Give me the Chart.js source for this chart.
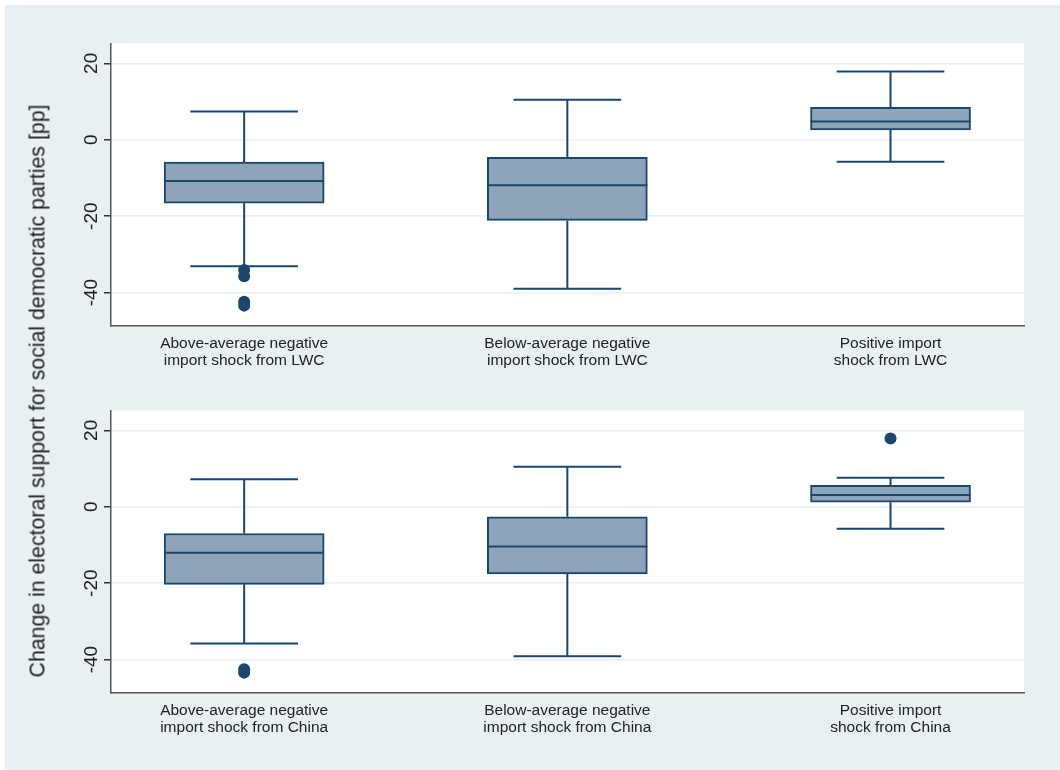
<!DOCTYPE html>
<html>
<head>
<meta charset="utf-8">
<script src="https://cdn.jsdelivr.net/npm/chart.js@4"></script>
<style>
  body { margin: 0; background: #fff; }
  #page { position: relative; width: 1060px; height: 770px; background: #fff; overflow: hidden; }
  #panel { position: absolute; left: 5px; top: 5px; width: 1055px; height: 765px; background: #e9f0f3; }
  .plot { position: absolute; left: 0; width: 1060px; height: 385px; }
  #top { top: 0; }
  #bottom { top: 385px; }
  #ytitle {
    position: absolute; left: 38px; top: 391px; white-space: nowrap;
    font: 21.3px "Liberation Sans", Arial, sans-serif; color: #222;
    transform: translate(-50%, -50%) rotate(-90deg);
  }
</style>
</head>
<body>
<div id="page">
  <div id="panel"></div>
  <div class="plot" id="top"><canvas id="c1" width="1060" height="385"></canvas></div>
  <div class="plot" id="bottom"><canvas id="c2" width="1060" height="385"></canvas></div>
  <div id="ytitle">Change in electoral support for social democratic parties [pp]</div>
</div>
<script>
// categories (x positions 1..3)
const positions = [1, 2, 3];
const labelsLWC = [
  ['Above-average negative', 'import shock from LWC'],
  ['Below-average negative', 'import shock from LWC'],
  ['Positive import', 'shock from LWC']
];
const labelsChina = [
  ['Above-average negative', 'import shock from China'],
  ['Below-average negative', 'import shock from China'],
  ['Positive import', 'shock from China']
];
const yTicks = [-40, -20, 0, 20];

// LWC panel
const lowLWC = [-33.1, -39.0, -5.75];
const q1LWC = [-16.6, -21.1, 2.6];
const medLWC = [-10.8, -11.9, 4.8];
const q3LWC = [-5.8, -4.6, 8.5];
const highLWC = [7.4, 10.5, 17.9];
const outLWC = [[-34.1, -35.7, -42.4, -43.4], [], []];

// China panel
const lowChina = [-35.8, -39.1, -5.75];
const q1China = [-20.3, -17.6, 1.2];
const medChina = [-12.0, -10.4, 3.1];
const q3China = [-7.0, -2.6, 5.6];
const highChina = [7.2, 10.5, 7.6];
const outChina = [[-42.5, -43.4], [], [17.9]];

const navy = '#1a476f';
const boxFill = '#8ea4b9';
const font = '"Liberation Sans", Arial, sans-serif';

// white plot region, whiskers, medians and rotated y labels
const boxPlugin = {
  id: 'boxWhiskers',
  beforeDraw(chart) {
    const a = chart.chartArea, ctx = chart.ctx;
    ctx.save();
    ctx.fillStyle = '#fff';
    ctx.fillRect(a.left, a.top, a.right - a.left, a.bottom - a.top);
    ctx.restore();
  },
  beforeDatasetsDraw(chart, args, opts) {
    const x = chart.scales.x, y = chart.scales.y, ctx = chart.ctx;
    ctx.save();
    ctx.strokeStyle = navy;
    ctx.lineWidth = 2;
    positions.forEach((p, i) => {
      const cx = x.getPixelForValue(p);
      const l = x.getPixelForValue(p - opts.cap), r = x.getPixelForValue(p + opts.cap);
      ctx.beginPath();
      ctx.moveTo(cx, y.getPixelForValue(opts.low[i]));
      ctx.lineTo(cx, y.getPixelForValue(opts.q1[i]));
      ctx.moveTo(cx, y.getPixelForValue(opts.q3[i]));
      ctx.lineTo(cx, y.getPixelForValue(opts.high[i]));
      ctx.moveTo(l, y.getPixelForValue(opts.low[i]));
      ctx.lineTo(r, y.getPixelForValue(opts.low[i]));
      ctx.moveTo(l, y.getPixelForValue(opts.high[i]));
      ctx.lineTo(r, y.getPixelForValue(opts.high[i]));
      ctx.stroke();
    });
    ctx.restore();
  },
  afterDatasetsDraw(chart, args, opts) {
    const y = chart.scales.y, ctx = chart.ctx;
    const bars = chart.getDatasetMeta(0).data;
    ctx.save();
    ctx.strokeStyle = navy;
    ctx.lineWidth = 2;
    bars.forEach((bar, i) => {
      const half = bar.width / 2;
      const my = y.getPixelForValue(opts.med[i]);
      ctx.beginPath();
      ctx.moveTo(bar.x - half, my);
      ctx.lineTo(bar.x + half, my);
      ctx.stroke();
    });
    ctx.restore();
  },
  afterDraw(chart) {
    const y = chart.scales.y, ctx = chart.ctx;
    ctx.save();
    ctx.fillStyle = '#222';
    ctx.font = '19px ' + font;
    ctx.textAlign = 'center';
    ctx.textBaseline = 'alphabetic';
    y.ticks.forEach(t => {
      ctx.save();
      ctx.translate(y.right - 14, y.getPixelForValue(t.value));
      ctx.rotate(-Math.PI / 2);
      ctx.fillText(String(t.value), 0, 0);
      ctx.restore();
    });
    ctx.restore();
  }
};

function makePanel(id, labels, low, q1, med, q3, high, outliers, padTop, padBottom) {
  const boxes = positions.map((p, i) => ({ x: p, y: [q1[i], q3[i]] }));
  const dots = [];
  outliers.forEach((list, i) => list.forEach(v => dots.push({ x: positions[i], y: v })));

  return new Chart(document.getElementById(id), {
    type: 'bar',
    data: {
      datasets: [
        {
          type: 'bar',
          data: boxes,
          backgroundColor: boxFill,
          borderColor: navy,
          borderWidth: 2,
          borderSkipped: false,
          barThickness: 160
        },
        {
          type: 'scatter',
          data: dots,
          backgroundColor: navy,
          borderColor: navy,
          pointRadius: 6,
          borderWidth: 0
        }
      ]
    },
    options: {
      responsive: false,
      animation: false,
      layout: { padding: { left: 91, right: 36, top: padTop, bottom: padBottom } },
      plugins: {
        legend: { display: false },
        tooltip: { enabled: false },
        boxWhiskers: { low: low, q1: q1, med: med, q3: q3, high: high, cap: 0.1665 }
      },
      scales: {
        x: {
          type: 'linear',
          offset: false,
          min: 0.588,
          max: 3.413,
          afterBuildTicks: s => { s.ticks = positions.map(v => ({ value: v })); },
          afterFit: s => { s.height = 45; },
          grid: { display: false, drawTicks: false },
          border: { display: true, color: '#555', width: 1.5 },
          ticks: {
            padding: 10,
            color: '#222',
            font: { family: font, size: 15.5, lineHeight: 1.1 },
            maxRotation: 0,
            callback: v => labels[positions.indexOf(v)]
          }
        },
        y: {
          min: -48.6,
          max: 25.2,
          afterBuildTicks: s => { s.ticks = yTicks.map(v => ({ value: v })); },
          afterFit: s => { s.width = 20; },
          grid: { color: '#e9f0f3', lineWidth: 1.5, tickColor: '#333', tickLength: 7 },
          border: { display: true, color: '#555', width: 1.5 },
          ticks: { display: false }
        }
      }
    },
    plugins: [boxPlugin]
  });
}

makePanel('c1', labelsLWC, lowLWC, q1LWC, medLWC, q3LWC, highLWC, outLWC, 43.5, 14.5);
makePanel('c2', labelsChina, lowChina, q1China, medChina, q3China, highChina, outChina, 25.5, 32.5);
</script>
</body>
</html>
